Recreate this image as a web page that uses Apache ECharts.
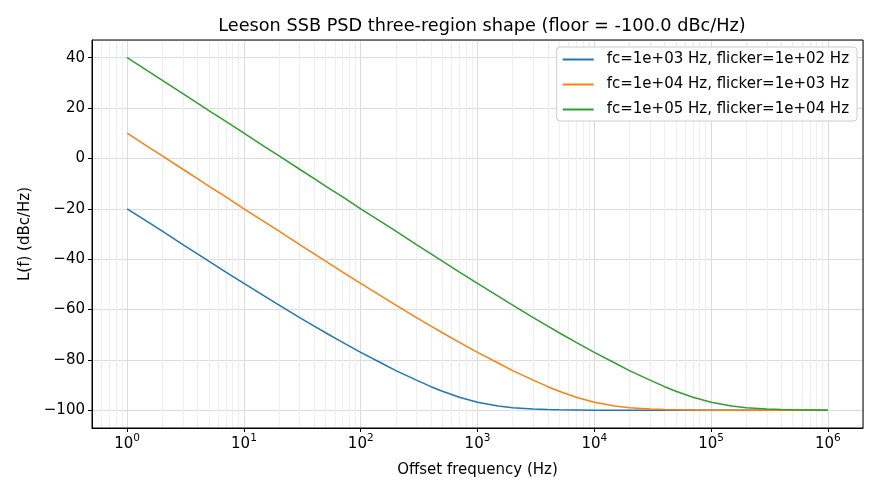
<!DOCTYPE html>
<html>
<head>
<meta charset="utf-8">
<script src="https://cdn.jsdelivr.net/npm/echarts@6/dist/echarts.min.js"></script>
<style>
  html, body { margin: 0; padding: 0; background: #fff; }
  #main { width: 880px; height: 495px; }
</style>
</head>
<body>
<div id="main"></div>
<script>
// offset frequencies (Hz): 1, 1.5, 2, 3, 4, 5, 7 per decade
const freqs = [
  1, 1.5, 2, 3, 4, 5, 7,
  10, 15, 20, 30, 40, 50, 70,
  100, 150, 200, 300, 400, 500, 700,
  1e3, 1.5e3, 2e3, 3e3, 4e3, 5e3, 7e3,
  1e4, 1.5e4, 2e4, 3e4, 4e4, 5e4, 7e4,
  1e5, 1.5e5, 2e5, 3e5, 4e5, 5e5, 7e5,
  1e6
];

// L(f) in dBc/Hz
const blueVals = [
  -20.0, -25.2, -28.9, -34.2, -37.9, -40.8, -45.1,
  -49.6, -54.7, -58.2, -63.2, -66.6, -69.2, -73.0,
  -77.0, -81.2, -84.2, -88.0, -90.6, -92.4, -94.8,
  -96.8, -98.3, -99.0, -99.5, -99.7, -99.8, -99.9,
  -100.0, -100.0, -100.0, -100.0, -100.0, -100.0, -100.0,
  -100.0, -100.0, -100.0, -100.0, -100.0, -100.0, -100.0,
  -100.0
];
const orangeVals = [
  10.0, 4.7, 1.0, -4.3, -8.0, -11.0, -15.3,
  -20.0, -25.2, -28.9, -34.2, -37.9, -40.8, -45.1,
  -49.6, -54.7, -58.2, -63.2, -66.6, -69.2, -73.0,
  -77.0, -81.2, -84.2, -88.0, -90.6, -92.4, -94.8,
  -96.8, -98.3, -99.0, -99.5, -99.7, -99.8, -99.9,
  -100.0, -100.0, -100.0, -100.0, -100.0, -100.0, -100.0,
  -100.0
];
const greenVals = [
  40.0, 34.7, 31.0, 25.7, 21.9, 19.0, 14.7,
  10.0, 4.7, 1.0, -4.3, -8.0, -11.0, -15.3,
  -20.0, -25.2, -28.9, -34.2, -37.9, -40.8, -45.1,
  -49.6, -54.7, -58.2, -63.2, -66.6, -69.2, -73.0,
  -77.0, -81.2, -84.2, -88.0, -90.6, -92.4, -94.8,
  -96.8, -98.3, -99.0, -99.5, -99.7, -99.8, -99.9,
  -100.0
];

const seriesNames = [
  'fc=1e+03 Hz, flicker=1e+02 Hz',
  'fc=1e+04 Hz, flicker=1e+03 Hz',
  'fc=1e+05 Hz, flicker=1e+04 Hz'
];
const colors = ['#1f77b4', '#ff7f0e', '#2ca02c'];

// minor (2..9 per decade) grid positions, as matplotlib draws them
const minorGrid = [
  0.6, 0.7, 0.8, 0.9,
  2, 3, 4, 5, 6, 7, 8, 9,
  20, 30, 40, 50, 60, 70, 80, 90,
  200, 300, 400, 500, 600, 700, 800, 900,
  2e3, 3e3, 4e3, 5e3, 6e3, 7e3, 8e3, 9e3,
  2e4, 3e4, 4e4, 5e4, 6e4, 7e4, 8e4, 9e4,
  2e5, 3e5, 4e5, 5e5, 6e5, 7e5, 8e5, 9e5
];

const font = "'DejaVu Sans', sans-serif";
const fs = 15;

function pairs(vals) {
  return freqs.map((f, i) => [f, vals[i]]);
}

const chart = echarts.init(document.getElementById('main'), null, { renderer: 'canvas' });

const lineSeries = [blueVals, orangeVals, greenVals].map((vals, i) => ({
  name: seriesNames[i],
  type: 'line',
  data: pairs(vals),
  showSymbol: false,
  smooth: false,
  lineStyle: { width: 1.5, color: colors[i] },
  itemStyle: { color: colors[i] },
  z: 3
}));

chart.setOption({
  animation: false,
  textStyle: { fontFamily: font },
  title: {
    text: 'Leeson SSB PSD three-region shape (floor = -100.0 dBc/Hz)',
    left: 477,
    top: 12,
    textAlign: 'center',
    textStyle: { fontFamily: font, fontSize: 17.7, fontWeight: 'normal', color: '#000' }
  },
  legend: {
    orient: 'vertical',
    right: 23,
    top: 47,
    z: 20,
    data: seriesNames,
    icon: 'rect',
    itemWidth: 31,
    itemHeight: 2,
    itemGap: 10,
    padding: [5, 8, 4, 6],
    backgroundColor: '#ffffff',
    borderColor: '#cccccc',
    borderWidth: 1,
    borderRadius: 3,
    textStyle: { fontFamily: font, fontSize: fs, color: '#000', padding: [0, 0, 0, 8] }
  },
  grid: { left: 92, right: 17, top: 40, bottom: 67 },
  xAxis: {
    type: 'log',
    logBase: 10,
    min: 0.5,
    max: 2e6,
    name: 'Offset frequency (Hz)',
    nameLocation: 'middle',
    nameGap: 35,
    nameTextStyle: { fontFamily: font, fontSize: fs, color: '#000' },
    axisLine: { show: true, onZero: false, lineStyle: { color: '#000', width: 1 } },
    axisTick: { show: true, inside: false, length: 4, lineStyle: { color: '#000' } },
    axisLabel: {
      showMinLabel: false,
      showMaxLabel: false,
      margin: 5,
      color: '#000',
      fontFamily: font,
      fontSize: fs,
      formatter: function (v) {
        const e = Math.round(Math.log10(v));
        if (Math.abs(Math.pow(10, e) - v) > 1e-6 * v) return '';
        return '{b|10}{sup|' + e + '}';
      },
      rich: {
        b: { fontSize: fs, fontFamily: font, color: '#000', padding: [4, 0, 0, 0] },
        sup: { fontSize: 10.5, verticalAlign: 'top', fontFamily: font, color: '#000' }
      }
    },
    splitLine: { show: true, lineStyle: { color: '#dcdcdc', width: 1 } }
  },
  yAxis: {
    type: 'value',
    min: -107,
    max: 47,
    splitNumber: 7,
    name: 'L(f) (dBc/Hz)',
    nameLocation: 'middle',
    nameGap: 58,
    nameTextStyle: { fontFamily: font, fontSize: fs, color: '#000' },
    axisLine: { show: true, onZero: false, lineStyle: { color: '#000', width: 1 } },
    axisTick: { show: true, inside: false, length: 4, lineStyle: { color: '#000' } },
    axisLabel: {
      showMinLabel: false,
      showMaxLabel: false,
      margin: 7,
      color: '#000',
      fontFamily: font,
      fontSize: fs,
      formatter: function (v) { return v < 0 ? '\u2212' + Math.abs(v) : String(v); }
    },
    splitLine: { show: true, lineStyle: { color: '#dcdcdc', width: 1 } }
  },
  series: [
    {
      name: 'minor-grid',
      type: 'line',
      data: [],
      silent: true,
      z: 1,
      markLine: {
        silent: true,
        z: 1,
        symbol: 'none',
        label: { show: false },
        lineStyle: { color: '#eeeeee', width: 1, type: 'solid' },
        data: minorGrid.map(v => ({ xAxis: v }))
      }
    }
  ].concat(lineSeries)
});

// box on the top and right sides, like matplotlib's frame
chart.setOption({
  graphic: [{
    type: 'rect',
    shape: { x: 92, y: 40, width: 880 - 92 - 17, height: 495 - 40 - 67 },
    style: { fill: 'none', stroke: '#000', lineWidth: 1 },
    silent: true,
    z: 10
  }]
});
</script>
</body>
</html>
